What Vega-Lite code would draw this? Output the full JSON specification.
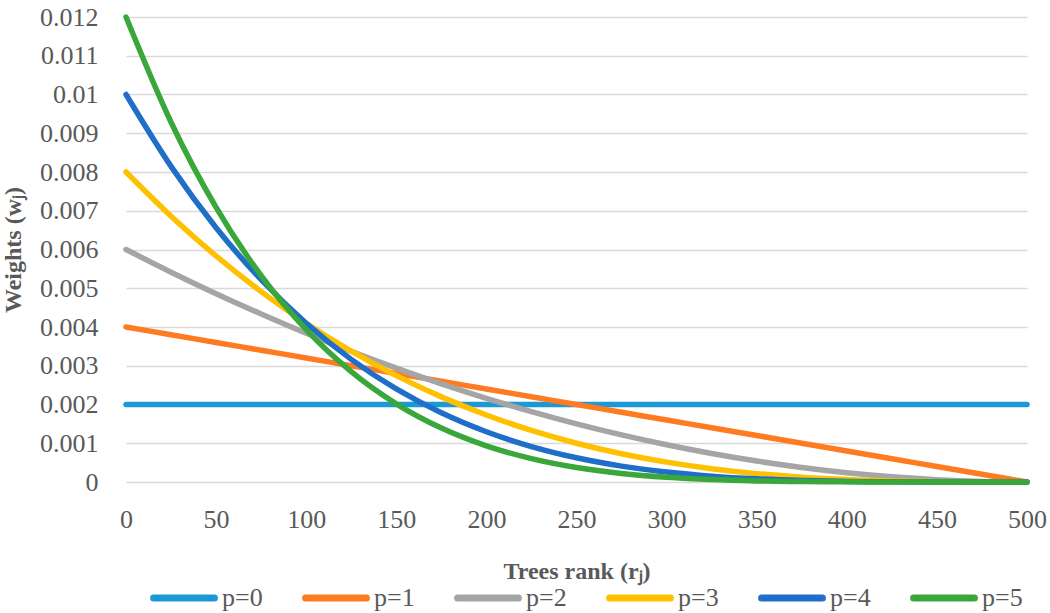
{
  "$schema": "https://vega.github.io/schema/vega-lite/v6.json",
  "autosize": "none",
  "width": 901,
  "height": 465,
  "padding": {"left": 126, "top": 17, "right": 23, "bottom": 131},
  "background": "white",
  "config": {
    "view": {"stroke": null},
    "font": "Liberation Serif"
  },
  "data": {
    "values": [
      {"r": 0, "p=0": 0.002, "p=1": 0.004, "p=2": 0.006, "p=3": 0.008, "p=4": 0.01, "p=5": 0.012},
      {"r": 25, "p=0": 0.002, "p=1": 0.0038, "p=2": 0.005415, "p=3": 0.006859, "p=4": 0.008145, "p=5": 0.009285},
      {"r": 50, "p=0": 0.002, "p=1": 0.0036, "p=2": 0.00486, "p=3": 0.005832, "p=4": 0.006561, "p=5": 0.007086},
      {"r": 75, "p=0": 0.002, "p=1": 0.0034, "p=2": 0.004335, "p=3": 0.004913, "p=4": 0.00522, "p=5": 0.005324},
      {"r": 100, "p=0": 0.002, "p=1": 0.0032, "p=2": 0.00384, "p=3": 0.004096, "p=4": 0.004096, "p=5": 0.003932},
      {"r": 125, "p=0": 0.002, "p=1": 0.003, "p=2": 0.003375, "p=3": 0.003375, "p=4": 0.003164, "p=5": 0.002848},
      {"r": 150, "p=0": 0.002, "p=1": 0.0028, "p=2": 0.00294, "p=3": 0.002744, "p=4": 0.002401, "p=5": 0.002017},
      {"r": 175, "p=0": 0.002, "p=1": 0.0026, "p=2": 0.002535, "p=3": 0.002197, "p=4": 0.001785, "p=5": 0.001392},
      {"r": 200, "p=0": 0.002, "p=1": 0.0024, "p=2": 0.00216, "p=3": 0.001728, "p=4": 0.001296, "p=5": 0.000933},
      {"r": 225, "p=0": 0.002, "p=1": 0.0022, "p=2": 0.001815, "p=3": 0.001331, "p=4": 0.000915, "p=5": 0.000604},
      {"r": 250, "p=0": 0.002, "p=1": 0.002, "p=2": 0.0015, "p=3": 0.001, "p=4": 0.000625, "p=5": 0.000375},
      {"r": 275, "p=0": 0.002, "p=1": 0.0018, "p=2": 0.001215, "p=3": 0.000729, "p=4": 0.00041, "p=5": 0.000221},
      {"r": 300, "p=0": 0.002, "p=1": 0.0016, "p=2": 0.00096, "p=3": 0.000512, "p=4": 0.000256, "p=5": 0.000123},
      {"r": 325, "p=0": 0.002, "p=1": 0.0014, "p=2": 0.000735, "p=3": 0.000343, "p=4": 0.00015, "p=5": 0.000063},
      {"r": 350, "p=0": 0.002, "p=1": 0.0012, "p=2": 0.00054, "p=3": 0.000216, "p=4": 0.000081, "p=5": 0.000029},
      {"r": 375, "p=0": 0.002, "p=1": 0.001, "p=2": 0.000375, "p=3": 0.000125, "p=4": 0.000039, "p=5": 0.000012},
      {"r": 400, "p=0": 0.002, "p=1": 0.0008, "p=2": 0.00024, "p=3": 0.000064, "p=4": 0.000016, "p=5": 0.000004},
      {"r": 425, "p=0": 0.002, "p=1": 0.0006, "p=2": 0.000135, "p=3": 0.000027, "p=4": 0.000005, "p=5": 0.000001},
      {"r": 450, "p=0": 0.002, "p=1": 0.0004, "p=2": 0.00006, "p=3": 0.000008, "p=4": 0.000001, "p=5": 0},
      {"r": 475, "p=0": 0.002, "p=1": 0.0002, "p=2": 0.000015, "p=3": 0.000001, "p=4": 0, "p=5": 0},
      {"r": 500, "p=0": 0.002, "p=1": 0, "p=2": 0, "p=3": 0, "p=4": 0, "p=5": 0}
    ]
  },
  "transform": [
    {"fold": ["p=0", "p=1", "p=2", "p=3", "p=4", "p=5"], "as": ["series", "weight"]}
  ],
  "mark": {
    "type": "line",
    "interpolate": "monotone",
    "strokeWidth": 5.5,
    "strokeCap": "round"
  },
  "encoding": {
    "x": {
      "field": "r",
      "type": "quantitative",
      "scale": {"domain": [0, 500], "nice": false},
      "axis": {
        "values": [0, 50, 100, 150, 200, 250, 300, 350, 400, 450, 500],
        "title": "Trees rank (rⱼ)",
        "titleFontSize": 24,
        "titleFontWeight": "bold",
        "titleColor": "#595959",
        "titleY": 89,
        "titleBaseline": "middle",
        "grid": false,
        "domain": false,
        "ticks": false,
        "labelFontSize": 26,
        "labelColor": "#595959",
        "labelPadding": 24,
        "labelFlush": false
      }
    },
    "y": {
      "field": "weight",
      "type": "quantitative",
      "scale": {"domain": [0, 0.012], "nice": false},
      "axis": {
        "values": [0, 0.001, 0.002, 0.003, 0.004, 0.005, 0.006, 0.007, 0.008, 0.009, 0.01, 0.011, 0.012],
        "format": "~g",
        "title": "Weights (wⱼ)",
        "titleFontSize": 24,
        "titleFontWeight": "bold",
        "titleColor": "#595959",
        "titleX": -113,
        "titleBaseline": "middle",
        "grid": true,
        "gridColor": "#d9d9d9",
        "gridWidth": 1.5,
        "domain": false,
        "ticks": false,
        "labelFontSize": 26,
        "labelColor": "#595959",
        "labelPadding": 28
      }
    },
    "color": {
      "field": "series",
      "type": "nominal",
      "scale": {
        "domain": ["p=0", "p=1", "p=2", "p=3", "p=4", "p=5"],
        "range": ["#1b98d6", "#ff7b22", "#a5a5a5", "#ffc000", "#1f6fc9", "#3aa73a"]
      },
      "legend": {
        "title": null,
        "orient": "none",
        "direction": "horizontal",
        "legendX": 24,
        "legendY": 547,
        "symbolType": "stroke",
        "symbolSize": 3700,
        "symbolStrokeWidth": 7,
        "labelFontSize": 26,
        "labelColor": "#595959",
        "labelOffset": 4,
        "columnPadding": 28,
        "encode": {
          "symbols": {"update": {"strokeCap": {"value": "round"}}}
        }
      }
    }
  }
}
